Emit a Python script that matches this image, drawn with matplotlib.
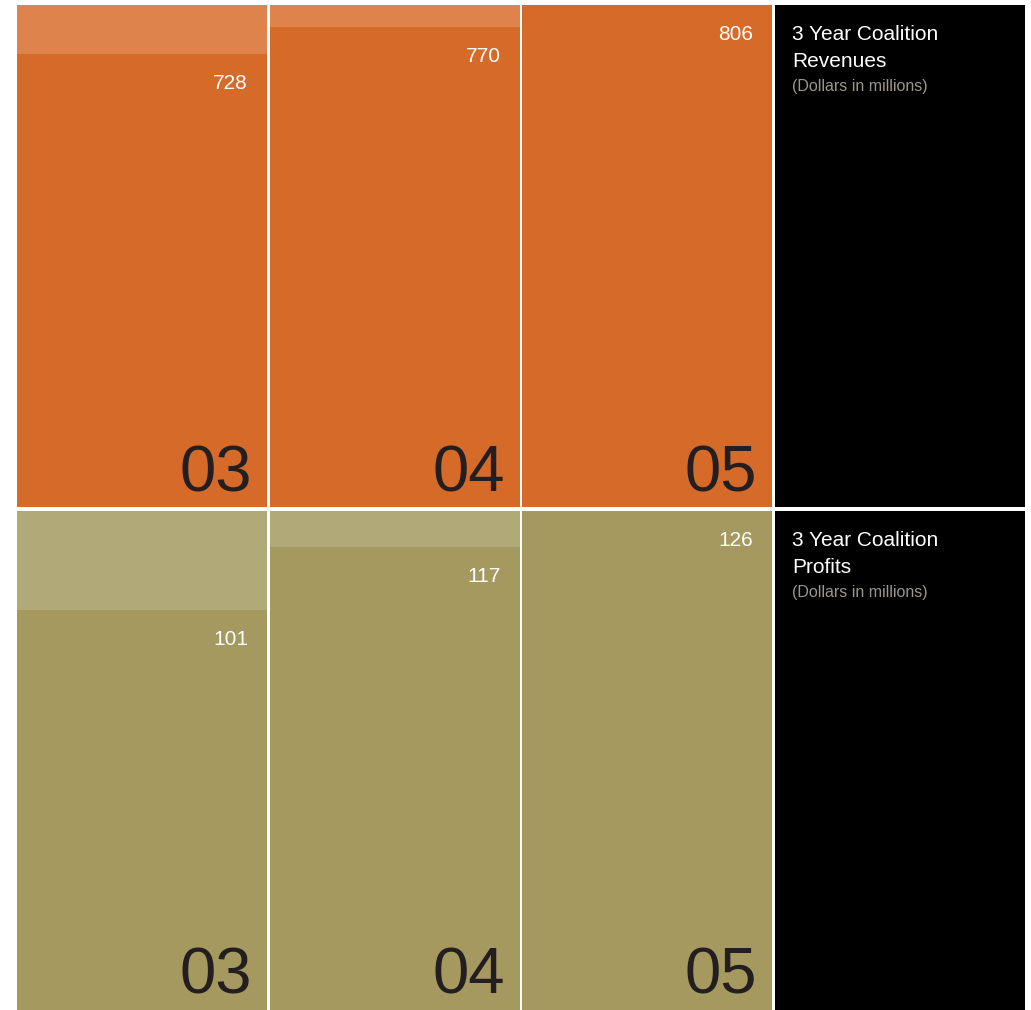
import matplotlib
matplotlib.use("Agg")
import matplotlib.pyplot as plt

plt.rcParams['font.family'] = ['Liberation Sans', 'DejaVu Sans']

years = ['03', '04', '05']
revenues = [728, 770, 806]
profits = [101, 117, 126]

rows = [
    dict(values=revenues, title='3 Year Coalition\nRevenues',
         bar='#d56a29', back='#de834c'),
    dict(values=profits, title='3 Year Coalition\nProfits',
         bar='#a5995f', back='#b1aa78'),
]

W, H = 1031, 1010
fig = plt.figure(figsize=(W / 100, H / 100), dpi=100, facecolor='white')

# pixel layout of the grid: column lefts, cell width, row tops and heights
col_left = [17, 269.7, 522.4, 775.1]
col_w = 250
row_top = [5, 511]
row_h = [502, 499]


def cell(x, y, w, h, face):
    ax = fig.add_axes([x / W, 1 - (y + h) / H, w / W, h / H])
    ax.set_facecolor(face)
    ax.set_xticks([])
    ax.set_yticks([])
    for s in ax.spines.values():
        s.set_visible(False)
    return ax


for r, row in enumerate(rows):
    vmax = max(row['values'])
    for i, (yr, v) in enumerate(zip(years, row['values'])):
        ax = cell(col_left[i], row_top[r], col_w, row_h[r], row['back'])
        ax.bar([0], [v], width=1, color=row['bar'], linewidth=0)
        ax.set_xlim(-0.5, 0.5)
        ax.set_ylim(0, vmax)
        ax.annotate(str(v), xy=(1, v), xycoords=('axes fraction', 'data'),
                    xytext=(-19, -35), textcoords='offset pixels',
                    ha='right', va='baseline', color='white', fontsize=15)
        ax.annotate(yr, xy=(1, 0), xycoords='axes fraction',
                    xytext=(-15, 16), textcoords='offset pixels',
                    ha='right', va='baseline', color='#231f20', fontsize=47)

    # black caption panel on the right
    cap = cell(col_left[3], row_top[r], col_w, row_h[r], 'black')
    line1, line2 = row['title'].split('\n')
    cap.annotate(line1, xy=(0, 1), xycoords='axes fraction',
                 xytext=(17, -35), textcoords='offset pixels',
                 ha='left', va='baseline', color='white', fontsize=15)
    cap.annotate(line2, xy=(0, 1), xycoords='axes fraction',
                 xytext=(17, -62), textcoords='offset pixels',
                 ha='left', va='baseline', color='white', fontsize=15)
    cap.annotate('(Dollars in millions)', xy=(0, 1), xycoords='axes fraction',
                 xytext=(17, -86), textcoords='offset pixels',
                 ha='left', va='baseline', color='#9c968c', fontsize=11.5)

fig.savefig('out.png', dpi=100, facecolor='white')
